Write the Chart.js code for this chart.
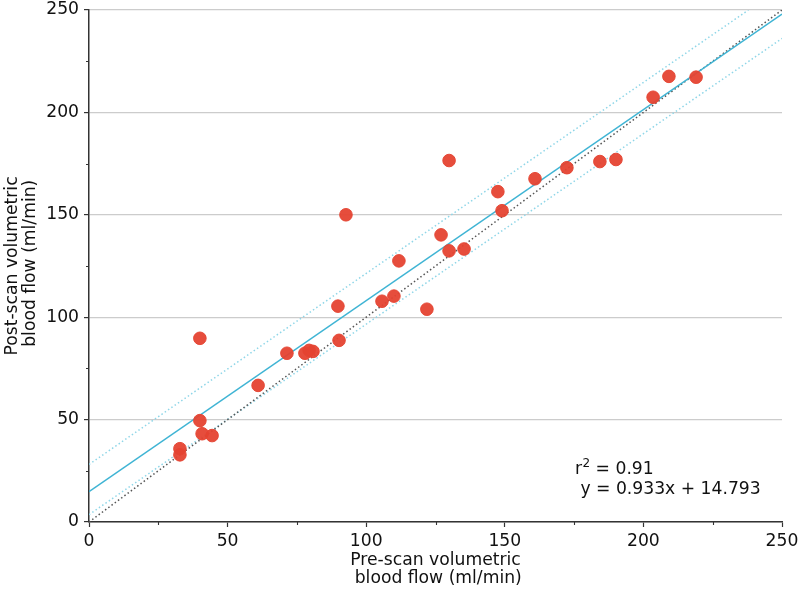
<!DOCTYPE html>
<html>
<head>
<meta charset="utf-8">
<script src="https://cdn.jsdelivr.net/npm/chart.js@4"></script>
<style>
  html, body { margin: 0; padding: 0; background: #fff; }
  canvas { display: block; }
</style>
</head>
<body>
<canvas id="flow-chart" width="800" height="591"></canvas>
<script>
// ---- data ----
const preScan = [32.8, 32.8, 40.0, 40.8, 44.4, 40.0, 61.0, 71.4, 77.9, 79.4, 80.8, 90.2, 89.8, 92.7, 105.7, 110.0,
  111.8, 121.9, 127.0, 129.9, 129.9, 135.3, 147.5, 149.0, 160.9, 172.4, 184.3, 190.1, 203.5, 209.2, 219.0];
const postScan = [32.8, 35.8, 49.5, 43.1, 42.2, 89.7, 66.7, 82.4, 82.4, 83.8, 83.3, 88.7, 105.4, 150.0, 107.8, 110.3,
  127.5, 103.9, 140.2, 132.4, 176.5, 133.3, 161.3, 152.0, 167.6, 173.0, 176.0, 177.0, 207.4, 217.6, 217.2];

// regression line y = 0.933x + 14.793, drawn between its two ends
const fitX = [0, 250];
const fitY = [14.793, 248.04];
// dotted band either side of the fit
const upperX = [0, 237.9];
const upperY = [28.1, 250];
const lowerX = [0, 250];
const lowerY = [3.6, 236.1];
// line of identity
const identX = [0, 250];
const identY = [0, 250];

const axisTicks = [0, 50, 100, 150, 200, 250];
const minorTicks = [25, 75, 125, 175, 225];

const r2Text = '0.91';
const eqText = ' y = 0.933x + 14.793';

const FONT = 'DejaVu Sans';
const FONT_SIZE = 17.2;
const INK = '#111';

function toPoints(xs, ys) {
  return xs.map((x, i) => ({ x, y: ys[i] }));
}

function isMajor(v) {
  return axisTicks.includes(v);
}

// minor tick marks (Chart.js has none of its own)
const minorTickPlugin = {
  id: 'minorTicks',
  afterDraw(chart) {
    const { ctx, scales: { x, y } } = chart;
    ctx.save();
    ctx.strokeStyle = '#333';
    ctx.lineWidth = 1.1;
    ctx.beginPath();
    for (const v of minorTicks) {
      const px = Math.round(x.getPixelForValue(v)) + 0.5;
      ctx.moveTo(px, y.bottom);
      ctx.lineTo(px, y.bottom + 3);
      const py = Math.round(y.getPixelForValue(v)) + 0.5;
      ctx.moveTo(x.left, py);
      ctx.lineTo(x.left - 3, py);
    }
    ctx.stroke();
    ctx.restore();
  },
};

// r² / equation text in the lower right
const statsTextPlugin = {
  id: 'statsText',
  afterDraw(chart) {
    const { ctx, scales: { x, y } } = chart;
    const left = x.getPixelForValue(175.3);
    const base1 = y.getPixelForValue(23.5);
    const base2 = base1 + 20;
    ctx.save();
    ctx.fillStyle = INK;
    ctx.textBaseline = 'alphabetic';
    ctx.textAlign = 'left';
    ctx.font = `${FONT_SIZE}px "${FONT}"`;
    ctx.fillText('r', left, base1);
    const rw = ctx.measureText('r').width;
    ctx.font = `12px "${FONT}"`;
    ctx.fillText('2', left + rw + 0.5, base1 - 7);
    const sw = ctx.measureText('2').width;
    ctx.font = `${FONT_SIZE}px "${FONT}"`;
    ctx.fillText(' = ' + r2Text, left + rw + sw + 0.5, base1);
    ctx.fillText(eqText, left, base2);
    ctx.restore();
  },
};

const ctx = document.getElementById('flow-chart').getContext('2d');

new Chart(ctx, {
  type: 'scatter',
  data: {
    datasets: [
      {
        data: toPoints(preScan, postScan),
        backgroundColor: 'rgba(229, 67, 49, 0.95)',
        borderColor: 'rgba(229, 67, 49, 0.95)',
        borderWidth: 1,
        pointRadius: 6.3,
        order: 0,
      },
      {
        data: toPoints(fitX, fitY),
        showLine: true,
        borderColor: '#3fb4d4',
        borderWidth: 1.5,
        pointRadius: 0,
        order: 1,
      },
      {
        data: toPoints(identX, identY),
        showLine: true,
        borderColor: '#555',
        borderWidth: 1.5,
        borderDash: [1.5, 2.5],
        pointRadius: 0,
        order: 2,
      },
      {
        data: toPoints(upperX, upperY),
        showLine: true,
        borderColor: '#8fd6e8',
        borderWidth: 1.5,
        borderDash: [1.5, 2.5],
        pointRadius: 0,
        order: 3,
      },
      {
        data: toPoints(lowerX, lowerY),
        showLine: true,
        borderColor: '#8fd6e8',
        borderWidth: 1.5,
        borderDash: [1.5, 2.5],
        pointRadius: 0,
        order: 3,
      },
    ],
  },
  options: {
    responsive: false,
    animation: false,
    devicePixelRatio: 1,
    layout: { padding: { left: 0, right: 18, top: 10, bottom: 0 } },
    plugins: { legend: { display: false }, tooltip: { enabled: false } },
    scales: {
      x: {
        type: 'linear',
        min: 0,
        max: 250,
        afterFit: (scale) => {
          scale.height = 69;
          scale.paddingLeft = 0;
          scale.paddingRight = 0;
        },
        afterBuildTicks: (scale) => { scale.ticks = axisTicks.map((v) => ({ value: v })); },
        border: { color: '#333', width: 1.5 },
        grid: {
          drawOnChartArea: false,
          tickLength: 5,
          tickColor: '#333',
          tickWidth: 1.2,
        },
        ticks: {
          padding: 4,
          maxRotation: 0,
          color: INK,
          font: { family: FONT, size: FONT_SIZE },
        },
        title: {
          display: true,
          text: ['Pre-scan volumetric', ' blood flow (ml/min)'],
          color: INK,
          font: { family: FONT, size: FONT_SIZE, lineHeight: 1.07 },
          padding: { top: 0, bottom: 3 },
        },
      },
      y: {
        type: 'linear',
        min: 0,
        max: 250,
        afterFit: (scale) => {
          scale.width = 89;
          scale.paddingTop = 0;
          scale.paddingBottom = 0;
        },
        afterBuildTicks: (scale) => { scale.ticks = axisTicks.map((v) => ({ value: v })); },
        border: { color: '#333', width: 1.5 },
        grid: {
          color: (c) => (c.tick && isMajor(c.tick.value) ? '#cccccc' : 'rgba(0,0,0,0)'),
          lineWidth: 1.2,
          tickLength: 5,
          tickColor: '#333',
          tickWidth: 1.2,
        },
        ticks: {
          padding: 5,
          color: INK,
          font: { family: FONT, size: FONT_SIZE },
        },
        title: {
          display: true,
          text: ['Post-scan volumetric', ' blood flow (ml/min)'],
          color: INK,
          font: { family: FONT, size: FONT_SIZE, lineHeight: 1.07 },
          padding: { top: 3, bottom: 0 },
        },
      },
    },
  },
  plugins: [minorTickPlugin, statsTextPlugin],
});
</script>
</body>
</html>
